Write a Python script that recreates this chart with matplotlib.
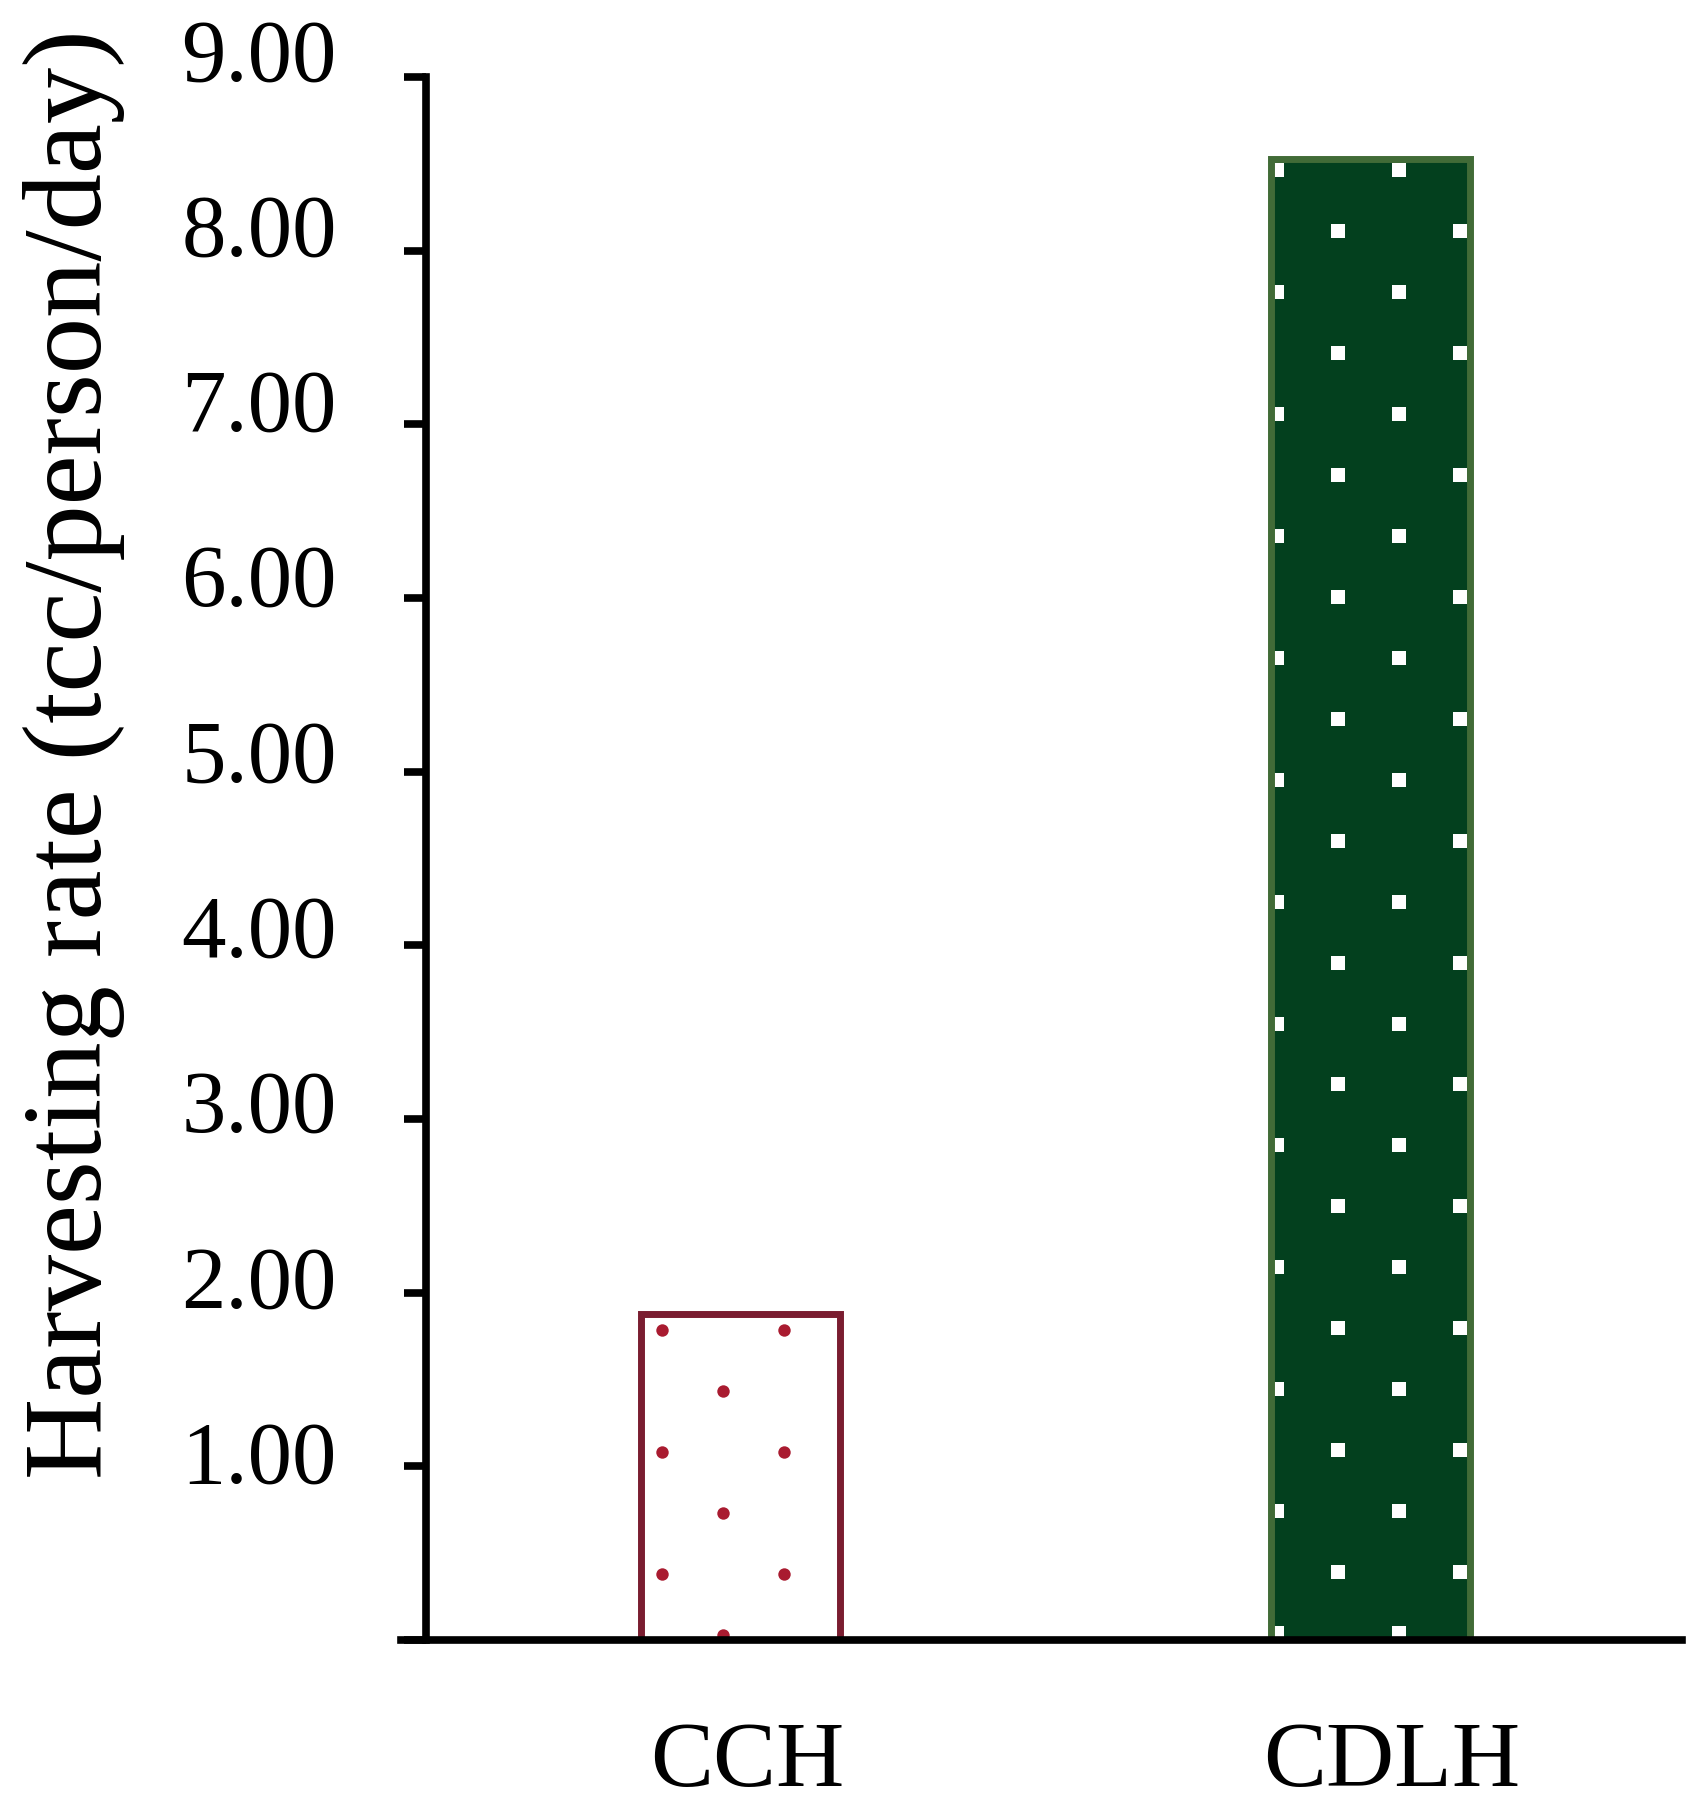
import numpy as np
import matplotlib
matplotlib.use("Agg")
import matplotlib.pyplot as plt
from matplotlib import transforms

plt.rcParams['font.family'] = ['Liberation Serif', 'DejaVu Serif']

# data
categories = ["CCH", "CDLH"]
rates = [1.88, 8.53]  # tcc/person/day
ytick_values = [0, 1, 2, 3, 4, 5, 6, 7, 8, 9]
ytick_labels = ["", "1.00", "2.00", "3.00", "4.00", "5.00", "6.00", "7.00", "8.00", "9.00"]

# styling per bar
fill_colors = ["white", "#03401e"]
edge_colors = ["#7a1d30", "#416b37"]
dot_colors = ["#a91b30", "white"]
dot_markers = ["o", "s"]
dot_sizes = [80, 95]
dot_x0 = [0.0325, 0.0095]   # first dot column, from bar left edge
dot_y0 = [0.029, 0.04]      # first dot row, from baseline
dot_parity = [1, 0]
xlabel_shift = [0.07, 0.21]  # inches, category labels sit a bit right of bar centres

BAR_WIDTH = 0.315
DOT_DX = 0.0968  # half the column spacing (rows are staggered)
DOT_DY = 0.351


def dot_grid(center, height, x0, y0, parity):
    # staggered dot texture inside one bar
    left = center - BAR_WIDTH / 2
    xs = left + x0 + DOT_DX * np.arange(int((BAR_WIDTH - x0) / DOT_DX) + 1)
    ys = y0 + DOT_DY * np.arange(int((height - y0) / DOT_DY) + 1)
    pts = [(x, y) for j, y in enumerate(ys) for i, x in enumerate(xs)
           if (i + j) % 2 == parity]
    return np.array(pts).T


def main():
    fig = plt.figure(figsize=(17.06, 18.18), dpi=100)
    ax = fig.add_axes([0.2351, 0.0979, 0.7509, 0.8597])

    x = np.arange(len(categories))

    # bar fills, dot texture, then outlines on top
    fills = ax.bar(x, rates, BAR_WIDTH, color=fill_colors, linewidth=0, zorder=1)
    for k, patch in enumerate(fills):
        dx, dy = dot_grid(x[k], rates[k], dot_x0[k], dot_y0[k], dot_parity[k])
        sc = ax.scatter(dx, dy, s=dot_sizes[k], c=dot_colors[k], marker=dot_markers[k],
                        linewidths=0, zorder=2)
        sc.set_clip_path(patch)
    ax.bar(x, rates, BAR_WIDTH, fill=False, edgecolor=edge_colors, linewidth=5, zorder=3)

    ax.set_xlim(-0.539, 1.495)
    ax.set_ylim(0, 9)

    for side in ["top", "right"]:
        ax.spines[side].set_visible(False)
    ax.spines["left"].set_position(("data", -0.5))
    for side in ["left", "bottom"]:
        ax.spines[side].set_linewidth(5.5)
        ax.spines[side].set_zorder(4)

    ax.set_yticks(ytick_values)
    ax.set_yticklabels(ytick_labels)
    ax.set_xticks(x)
    ax.set_xticklabels(categories)
    ax.tick_params(axis="y", length=16, width=5.5, direction="out", pad=48, labelsize=64)
    ax.tick_params(axis="x", length=0, pad=58, labelsize=68)

    # tick labels drift upward from their ticks towards the top
    for v, lab in zip(ytick_values, ax.get_yticklabels()):
        up = 0.15 + 0.016 * (v - 1)
        lab.set_transform(lab.get_transform() +
                          transforms.ScaledTranslation(0, up, fig.dpi_scale_trans))
    for shift, lab in zip(xlabel_shift, ax.get_xticklabels()):
        lab.set_transform(lab.get_transform() +
                          transforms.ScaledTranslation(shift, 0, fig.dpi_scale_trans))

    ax.set_ylabel("Harvesting rate (tcc/person/day)", fontsize=81, va="center")
    ax.yaxis.set_label_coords(-0.255, 0.567)

    fig.savefig("out.png", dpi=100)


if __name__ == "__main__":
    main()
